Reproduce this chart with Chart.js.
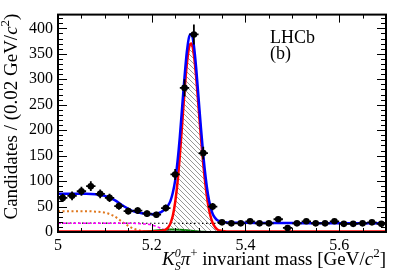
<!DOCTYPE html>
<html>
<head>
<meta charset="utf-8">
<script src="https://cdn.jsdelivr.net/npm/chart.js@4.4.0/dist/chart.umd.min.js"></script>
<style>
  html, body { margin: 0; padding: 0; background: #fff; }
  #wrap { width: 407px; height: 276px; }
</style>
</head>
<body>
<div id="wrap"><canvas id="massChart" width="407" height="276"></canvas></div>
<script>
// data: bin centres in GeV/c^2, candidates per 0.02 GeV/c^2
const binCentres = [5.01, 5.03, 5.05, 5.07, 5.09, 5.11, 5.13, 5.15, 5.17, 5.19,
                    5.21, 5.23, 5.25, 5.27, 5.29, 5.31, 5.33, 5.35, 5.37, 5.39,
                    5.41, 5.43, 5.45, 5.47, 5.49, 5.51, 5.53, 5.55, 5.57, 5.59,
                    5.61, 5.63, 5.65, 5.67, 5.69];
const candidates = [67, 71, 80, 90, 75, 67, 51, 41, 42, 36,
                    34, 47, 113, 283, 388, 155, 50, 19, 17, 17,
                    21, 17, 17, 25, 8, 17, 21, 17, 17, 21,
                    16, 16, 17, 19, 16];

// fit curves
const fitMass = [5.00, 5.02, 5.04, 5.06, 5.08, 5.10, 5.12, 5.14, 5.16, 5.18,
                 5.20, 5.21, 5.22, 5.225, 5.23, 5.235, 5.24, 5.245, 5.25, 5.255,
                 5.26, 5.265, 5.27, 5.275, 5.28, 5.285, 5.29, 5.295, 5.30, 5.305,
                 5.31, 5.315, 5.32, 5.325, 5.33, 5.335, 5.34, 5.35, 5.36, 5.38,
                 5.40, 5.45, 5.50, 5.55, 5.60, 5.65, 5.70];
const fitTotal = [75, 75, 75, 75, 74, 71, 63, 51, 41, 37,
                  35, 36, 39, 42, 46, 52, 61, 77, 101, 138,
                  187, 246, 304, 354, 384, 389, 366, 321, 263, 205,
                  152, 108, 74, 51, 36, 28, 23, 20, 18.5, 18,
                  18, 17.5, 17.5, 17, 17, 17, 17];
const fitSignal = [1, 1, 1, 1, 1, 1, 1, 1, 1, 1,
                   1, 1.5, 2, 3, 5, 9, 17, 32, 58, 97,
                   150, 212, 276, 330, 364, 370, 348, 303, 245, 187,
                   134, 90, 56, 33, 18, 10, 5, 2, 1, 1,
                   1, 1, 1, 1, 1, 1, 1];

const partRecoMass = [5.00, 5.02, 5.04, 5.06, 5.08, 5.10, 5.12, 5.14, 5.16, 5.18, 5.20];
const partRecoFit = [41, 41, 41, 41, 40, 38, 31, 18, 7, 2, 0];

const misIdMass = [5.00, 5.04, 5.08, 5.12, 5.16, 5.18, 5.20, 5.21, 5.22, 5.23, 5.24, 5.25];
const misIdFit = [17, 17, 17, 17, 17, 16, 14, 11, 7, 3, 1, 0];

const combMass = [5.00, 5.35, 5.70];
const combFit = [17.5, 17, 16.5];

const otherMass = [5.18, 5.20, 5.22, 5.24, 5.26, 5.28, 5.30, 5.32];
const otherFit = [0.5, 2, 4, 5, 4.5, 3, 1, 0];

const xTickValues = [5, 5.2, 5.4, 5.6];
const xTickLabels = ['5', '5.2', '5.4', '5.6'];
const yTickValues = [0, 50, 100, 150, 200, 250, 300, 350, 400];
const yTickLabels = ['0', '50', '100', '150', '200', '250', '300', '350', '400'];

const SERIF = '"Liberation Serif", "Times New Roman", serif';

function pts(xs, ys) {
  return xs.map((x, i) => ({ x: x, y: ys[i] }));
}

const canvas = document.getElementById('massChart');
const ctx = canvas.getContext('2d');

// diagonal hatch for the signal component
const tile = document.createElement('canvas');
tile.width = 5; tile.height = 5;
const tg = tile.getContext('2d');
tg.strokeStyle = '#6a6a6a';
tg.lineWidth = 0.7;
tg.beginPath();
for (let k = -1; k <= 1; k++) { tg.moveTo(k * 5, 0); tg.lineTo(k * 5 + 5, 5); }
tg.stroke();
const hatch = ctx.createPattern(tile, 'repeat');

function curve(data, color, width, dash, order) {
  return {
    data: data,
    showLine: true,
    borderColor: color,
    borderWidth: width,
    borderDash: dash,
    pointRadius: 0,
    fill: false,
    cubicInterpolationMode: 'monotone',
    order: order
  };
}

// error bars on the data points
const errorBars = {
  id: 'errorBars',
  afterDatasetsDraw(chart) {
    const c = chart.ctx, xs = chart.scales.x, ys = chart.scales.y;
    c.save();
    c.strokeStyle = '#000';
    c.lineWidth = 1.8;
    c.beginPath();
    binCentres.forEach((m, i) => {
      const n = candidates[i];
      const err = Math.sqrt(n);
      const px = xs.getPixelForValue(m);
      const py = ys.getPixelForValue(n);
      c.moveTo(xs.getPixelForValue(m - 0.01), py);
      c.lineTo(xs.getPixelForValue(m + 0.01), py);
      c.moveTo(px, ys.getPixelForValue(n - err));
      c.lineTo(px, ys.getPixelForValue(n + err));
    });
    c.stroke();
    c.restore();
  }
};

// ROOT style frame with inward ticks on all sides
const frame = {
  id: 'frame',
  afterDraw(chart) {
    const c = chart.ctx, a = chart.chartArea;
    const xs = chart.scales.x, ys = chart.scales.y;
    c.save();
    c.strokeStyle = '#000';
    c.lineWidth = 1;
    c.beginPath();
    for (let k = 0; k <= 14; k++) {
      const px = Math.round(xs.getPixelForValue(5 + k * 0.05)) + 0.5;
      const len = k % 4 === 0 ? 8 : 4;
      c.moveTo(px, a.bottom); c.lineTo(px, a.bottom - len);
      c.moveTo(px, a.top); c.lineTo(px, a.top + len);
    }
    for (let k = 0; k <= 42; k++) {
      const py = Math.round(ys.getPixelForValue(k * 10)) + 0.5;
      const len = k % 5 === 0 ? 9 : 5;
      c.moveTo(a.left, py); c.lineTo(a.left + len, py);
      c.moveTo(a.right, py); c.lineTo(a.right - len, py);
    }
    c.stroke();
    c.lineWidth = 2;
    c.strokeRect(a.left, a.top, a.right - a.left, a.bottom - a.top);
    c.restore();
  }
};

function richWidth(c, parts) {
  let w = 0, held = 0;
  parts.forEach(p => {
    c.font = (p.it ? 'italic ' : '') + (p.size || 19) + 'px ' + SERIF;
    const pw = c.measureText(p.t).width;
    if (p.stack) { held = pw; return; }
    w += Math.max(pw, held);
    held = 0;
  });
  return w;
}

function drawRich(c, parts, x, y) {
  let held = 0;
  parts.forEach(p => {
    c.font = (p.it ? 'italic ' : '') + (p.size || 19) + 'px ' + SERIF;
    c.fillText(p.t, x, y + (p.dy || 0));
    const pw = c.measureText(p.t).width;
    if (p.stack) { held = pw; return; }
    x += Math.max(pw, held);
    held = 0;
  });
}

const xTitle = [
  { t: 'K', it: true },
  { t: 'S', it: true, size: 12, dy: 5, stack: true },
  { t: '0', it: true, size: 12, dy: -8 },
  { t: 'π', it: true },
  { t: '+', size: 13, dy: -8 },
  { t: ' invariant mass [GeV/' },
  { t: 'c', it: true },
  { t: '2', size: 13, dy: -8 },
  { t: ']' }
];
const yTitle = [
  { t: 'Candidates / (0.02 GeV/' },
  { t: 'c', it: true },
  { t: '2', size: 13, dy: -8 },
  { t: ')' }
];

const titles = {
  id: 'titles',
  afterDraw(chart) {
    const c = chart.ctx, a = chart.chartArea;
    c.save();
    c.fillStyle = '#000';
    c.textBaseline = 'alphabetic';
    c.textAlign = 'left';
    const wx = richWidth(c, xTitle);
    drawRich(c, xTitle, a.right - wx, 265);
    const wy = richWidth(c, yTitle);
    c.translate(17, a.top - 1 + wy);
    c.rotate(-Math.PI / 2);
    drawRich(c, yTitle, 0, 0);
    c.restore();

    c.save();
    c.fillStyle = '#000';
    c.font = '18px ' + SERIF;
    c.fillText('LHCb', 270, 43);
    c.fillText('(b)', 270, 59);
    c.restore();
  }
};

new Chart(ctx, {
  type: 'scatter',
  data: {
    datasets: [
      {
        data: pts(binCentres, candidates),
        pointRadius: 3.3,
        pointBackgroundColor: '#000',
        pointBorderWidth: 0,
        showLine: false,
        order: 0
      },
      curve(pts(fitMass, fitTotal), '#0000ff', 2.5, [], 1),
      Object.assign(curve(pts(fitMass, fitSignal), '#ff0000', 2.5, [], 2),
                    { fill: 'origin', backgroundColor: hatch }),
      curve(pts(otherMass, otherFit), '#008000', 2, [], 3),
      curve(pts(misIdMass, misIdFit), '#ff00ff', 1.5, [3, 2], 4),
      curve(pts(partRecoMass, partRecoFit), '#e0781e', 2, [2, 2.5], 5),
      curve(pts(combMass, combFit), '#000000', 1.2, [1.5, 2.5], 6)
    ]
  },
  options: {
    responsive: false,
    animation: false,
    layout: { padding: { left: 0, right: 21, top: 14, bottom: 0 } },
    plugins: { legend: { display: false }, tooltip: { enabled: false } },
    scales: {
      x: {
        type: 'linear',
        min: 5,
        max: 5.7,
        grid: { display: false, drawTicks: false },
        border: { display: false },
        afterBuildTicks: s => { s.ticks = xTickValues.map(v => ({ value: v })); },
        afterFit: s => { s.height = 44; },
        ticks: {
          autoSkip: false,
          maxRotation: 0,
          padding: 4,
          color: '#000',
          font: { family: SERIF, size: 16 },
          callback: v => xTickLabels[xTickValues.indexOf(v)]
        }
      },
      y: {
        type: 'linear',
        min: 0,
        max: 427,
        grid: { display: false, drawTicks: false },
        border: { display: false },
        afterBuildTicks: s => { s.ticks = yTickValues.map(v => ({ value: v })); },
        afterFit: s => { s.width = 58; },
        ticks: {
          autoSkip: false,
          padding: 5,
          color: '#000',
          font: { family: SERIF, size: 16 },
          callback: v => yTickLabels[yTickValues.indexOf(v)]
        }
      }
    }
  },
  plugins: [errorBars, frame, titles]
});
</script>
</body>
</html>
